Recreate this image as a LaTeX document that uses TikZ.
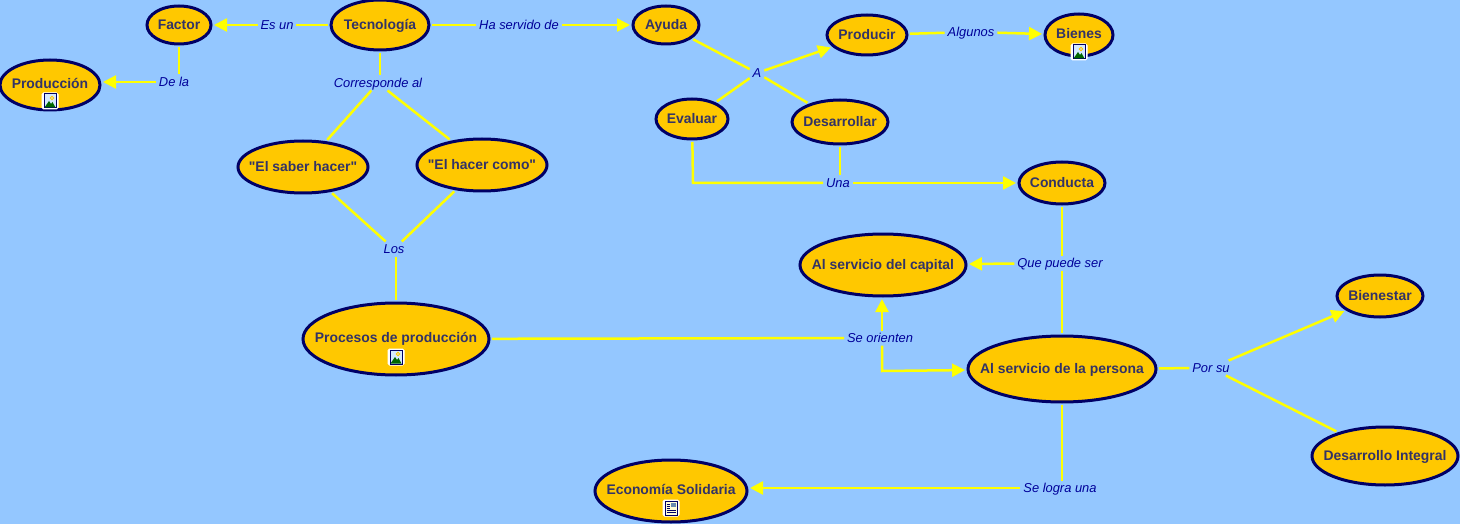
\documentclass[tikz,border=0pt]{standalone}
\usepackage{fontspec}
\setmainfont{Liberation Sans}
\usetikzlibrary{shapes.geometric,arrows.meta}
\definecolor{skyback}{RGB}{148,199,255}
\definecolor{conceptfill}{RGB}{255,200,0}
\definecolor{conceptline}{RGB}{0,0,102}
\definecolor{concepttext}{RGB}{51,51,102}
\definecolor{linktext}{RGB}{0,0,153}
\definecolor{linkline}{RGB}{255,255,0}
\newcommand{\cname}[1]{\makebox[0pt]{#1}}

\begin{document}
\begin{tikzpicture}[
    x=1pt, y=-1pt,
    concept/.style={ellipse, draw=conceptline, fill=conceptfill, line width=3pt, inner sep=0pt, outer sep=3pt,
        text=concepttext, text height=9.5pt, text depth=0pt, font=\fontsize{13.9}{15}\selectfont\bfseries},
    withicon/.style={text height=7pt},
    linkword/.style={text=linktext, inner sep=3pt, outer sep=0pt, text height=9pt, text depth=0pt,
        font=\fontsize{12.9}{15}\selectfont\itshape},
    link/.style={draw=linkline, line width=2.5pt},
    flow/.style={link, -{Triangle[length=13pt,width=13pt,fill=linkline]}},
    imageicon/.pic={
        \draw[white, fill=white, line width=1pt, rounded corners=1.5pt] (-8,-8) rectangle (8,8);
        \draw[conceptline, fill=skyback!40!white, line width=1pt] (-6,-7) rectangle (6,7);
        \fill[green!40!black] (-5.5,6.5) -- (-1,0) -- (1,3) -- (2.5,1) -- (5.5,6.5) -- cycle;
        \draw[conceptfill, line width=.8pt] (2,-3) circle (1.8);
    },
    docicon/.pic={
        \draw[white, fill=white, line width=1pt, rounded corners=1.5pt] (-8,-8) rectangle (8,8);
        \draw[conceptline, fill=yellow!15!white, line width=1pt] (-6,-7) rectangle (6,7);
        \fill[skyback!70!black] (0,-5.5) rectangle (4.5,-1);
        \foreach \ypos in {-4,-2,0}
            \draw[conceptline, line width=.8pt] (-4.5,\ypos) -- (-1,\ypos);
        \foreach \ypos in {2,4}
            \draw[conceptline, line width=.8pt] (-4.5,\ypos) -- (4.5,\ypos);
    }
]

    % --- BACKGROUND ---
    \fill[skyback] (0,0) rectangle (1460,524);
    \useasboundingbox (0,0) rectangle (1460,524);

    % --- CONCEPTS ---
    \node[concept, minimum width=64pt, minimum height=38pt] (factor) at (179,25) {\cname{Factor}};
    \node[concept, minimum width=98pt, minimum height=50pt] (tecnologia) at (380,25) {\cname{Tecnología}};
    \node[concept, minimum width=66pt, minimum height=38pt] (ayuda) at (666,25) {\cname{Ayuda}};
    \node[concept, minimum width=80pt, minimum height=40pt] (producir) at (867,35) {\cname{Producir}};
    \node[concept, withicon, minimum width=68pt, minimum height=42pt] (bienes) at (1079,35) {\cname{Bienes}};
    \node[concept, withicon, minimum width=100pt, minimum height=50pt] (produccion) at (50,85) {\cname{Producción}};
    \node[concept, minimum width=130pt, minimum height=52pt] (saber) at (303,167) {\cname{\textquotedbl El saber hacer\textquotedbl}};
    \node[concept, minimum width=130pt, minimum height=52pt] (hacer) at (482,165) {\cname{\textquotedbl El hacer como\textquotedbl}};
    \node[concept, minimum width=72pt, minimum height=40pt] (evaluar) at (692,119) {\cname{Evaluar}};
    \node[concept, minimum width=96pt, minimum height=44pt] (desarrollar) at (840,122) {\cname{Desarrollar}};
    \node[concept, minimum width=86pt, minimum height=42pt] (conducta) at (1062,183) {\cname{Conducta}};
    \node[concept, minimum width=166pt, minimum height=62pt] (capital) at (883,265) {\cname{Al servicio del capital}};
    \node[concept, withicon, minimum width=186pt, minimum height=72pt] (procesos) at (396,339) {\cname{Procesos de producción}};
    \node[concept, minimum width=188pt, minimum height=66pt] (persona) at (1062,369) {\cname{Al servicio de la persona}};
    \node[concept, minimum width=86pt, minimum height=42pt] (bienestar) at (1380,296) {\cname{Bienestar}};
    \node[concept, minimum width=146pt, minimum height=58pt] (integral) at (1385,456) {\cname{Desarrollo Integral}};
    \node[concept, withicon, minimum width=152pt, minimum height=62pt] (solidaria) at (671,491) {\cname{Economía Solidaria}};

    % --- LINKING WORDS ---
    \node[linkword] (esun) at (277,25) {Es un};
    \node[linkword] (servido) at (519,25) {Ha servido de};
    \node[linkword] (dela) at (174,82) {De la};
    \node[linkword] (corresponde) at (378,83) {Corresponde al};
    \node[linkword] (awd) at (757,73) {A};
    \node[linkword] (algunos) at (971,32) {Algunos};
    \node[linkword] (una) at (838,183) {Una};
    \node[linkword] (los) at (394,249) {Los};
    \node[linkword] (puede) at (1060,263) {Que puede ser};
    \node[linkword] (orienten) at (880,338) {Se orienten};
    \node[linkword] (porsu) at (1211,368) {Por su};
    \node[linkword] (logra) at (1060,488) {Se logra una};

    % Bends
    \coordinate (evalbend) at (693,183);
    \coordinate (orientbend) at (882,371);

    % --- CONNECTORS ---
    \draw[link] (tecnologia) -- (esun);
    \draw[flow] (esun) -- (factor);
    \draw[link] (factor) -- (dela.north -| factor);
    \draw[flow] (dela) -- (dela -| produccion.east);
    \draw[link] (tecnologia) -- (servido);
    \draw[flow] (servido) -- (ayuda);

    \draw[link] (tecnologia) -- (corresponde.north -| tecnologia);
    \draw[link] (corresponde) -- (saber);
    \draw[link] (corresponde) -- (hacer);
    \draw[link] (saber) -- (los);
    \draw[link] (hacer) -- (los);
    \draw[link] (los.south -| procesos) -- (procesos);

    \draw[link] (ayuda) -- (awd);
    \draw[link] (evaluar) -- (awd);
    \draw[link] (desarrollar) -- (awd);
    \draw[flow] (awd) -- (producir);
    \draw[link] (producir) -- (algunos);
    \draw[flow] (algunos) -- (bienes);

    \draw[link] (evaluar) -- (evalbend) -- (una);
    \draw[link] (desarrollar) -- (una.north -| desarrollar);
    \draw[flow] (una) -- (conducta);

    \draw[link] (conducta) -- (puede.north -| conducta);
    \draw[link] (puede.south -| persona) -- (persona);
    \draw[flow] (puede) -- (capital);

    \draw[link] (procesos) -- (orienten);
    \draw[flow] (orienten.north -| orientbend) -- (capital.south -| orientbend);
    \draw[flow] (orienten.south -| orientbend) -- (orientbend) -- (persona);

    \draw[link] (persona) -- (porsu);
    \draw[flow] (porsu) -- (bienestar);
    \draw[link] (porsu) -- (integral);
    \draw[link] (persona) -- (logra.north -| persona);
    \draw[flow] (logra) -- (logra -| solidaria.east);

    % --- RESOURCE ICONS ---
    \pic at (50,101) {imageicon};
    \pic at (1079,52) {imageicon};
    \pic at (396,357) {imageicon};
    \pic at (671,508) {docicon};

\end{tikzpicture}
\end{document}
